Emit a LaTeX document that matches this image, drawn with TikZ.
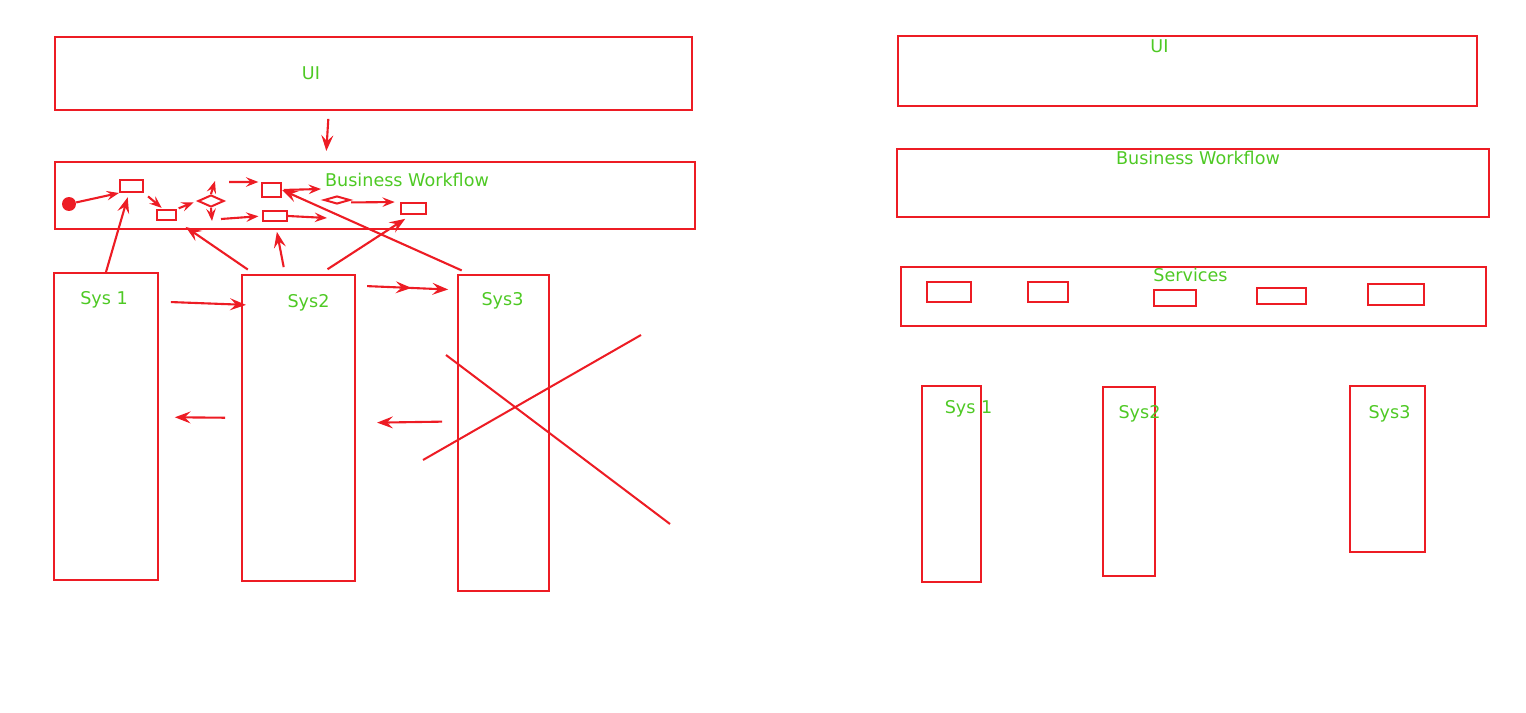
\documentclass[tikz,border=0pt]{standalone}
\usepackage{fontspec}
\setmainfont{DejaVu Sans}
\usetikzlibrary{arrows.meta,positioning,shapes.geometric,decorations.markings}
\definecolor{inkred}{RGB}{237,28,36}
\definecolor{inkgreen}{RGB}{78,201,36}
\tikzset{
  blk/.style={rectangle, draw=inkred, line width=1.15pt, inner sep=0pt},
  lbl/.style={text=inkgreen, inner sep=0pt, font=\fontsize{10}{12}\selectfont},
  flow/.style={color=inkred, line width=1.2pt, -{Stealth[length=9pt,width=6.8pt,inset=3.4pt]}},
  smallflow/.style={-{Stealth[length=7pt,width=5.4pt,inset=2.6pt]}},
  every edge/.append style={draw=inkred},
}

\begin{document}
\begin{tikzpicture}[x=0.02cm, y=-0.02cm, node distance=2cm, on grid]
\useasboundingbox (0,0) rectangle (1526,713);

%% left side
\node[blk, minimum width=12.74cm, minimum height=1.46cm] (uiL) at (373.5,73.5) {};
\node[blk, minimum width=12.8cm, minimum height=1.34cm] (bwL) at (375,195.5) {};
\node[lbl] (uiL_t) at (311,73) {UI};
\node[lbl] (bwL_t) at (407,180) {Business Workflow};

\node[circle, fill=inkred, minimum size=0.28cm, inner sep=0pt] (start) at (69,204) {};
\node[blk, minimum width=0.46cm, minimum height=0.24cm] (r1) at (131.5,186) {};
\node[blk, minimum width=0.38cm, minimum height=0.2cm] (r2) at (166.5,215) {};
\node[diamond, draw=inkred, line width=1.15pt, minimum width=0.52cm, minimum height=0.24cm, inner sep=0pt] (d1) at (211,201) {};
\node[blk, minimum width=0.38cm, minimum height=0.28cm] (r3) at (271.5,190) {};
\node[blk, minimum width=0.48cm, minimum height=0.2cm] (r4) at (275,216) {};
\node[diamond, draw=inkred, line width=1.15pt, minimum width=0.52cm, minimum height=0.16cm, inner sep=0pt] (d2) at (337,200) {};
\node[blk, minimum width=0.5cm, minimum height=0.22cm] (r5) at (413.5,208.5) {};

\coordinate (d1up) at (215,181);
\coordinate (d1dn) at (212,221);
\coordinate (r3in) at (229,182);
\coordinate (r3out) at (321,189);
\coordinate (r4in) at (221,219);
\coordinate (r4out) at (327,218);

\node[blk, minimum width=2.08cm, minimum height=6.14cm] (sysL1) at (106,426.5) {};
\node[blk, minimum width=2.26cm, minimum height=6.12cm] (sysL2) at (298.5,428) {};
\node[blk, minimum width=1.82cm, minimum height=6.32cm] (sysL3) at (503.5,433) {};
\node[lbl] (sysL1_t) at (104,300) {Sys 1};
\node[lbl] (sysL2_t) at (308.5,303) {Sys2};
\node[lbl] (sysL3_t) at (502.5,301) {Sys3};

\path[flow]
(uiL.220) edge [shorten <=4.5pt, shorten >=5.7pt] (bwL.145)
(start) edge [smallflow] (r1.south west)
(r1.south east) edge [smallflow, shorten <=3pt, shorten >=1pt] (r2.120)
(r2.north east) edge [smallflow, shorten <=1pt, shorten >=2pt] (d1.west)
(d1.north) edge [smallflow] (d1up)
(d1.south) edge [smallflow] (d1dn)
(r3in) edge [smallflow, shorten >=1.5pt] (r3.north west)
(r3.east) edge [smallflow, shorten <=1pt] (r3out)
(r4in) edge [smallflow, shorten >=2pt] (r4.west)
(r4.east) edge [smallflow] (r4out)
(d2.south east) edge [smallflow, shorten <=4pt, shorten >=3pt] (r5.north west)
(sysL1.north) edge [shorten >=2.5pt] (r1.250)
(sysL2.106) edge [shorten <=4.5pt, shorten >=6pt] (r2.south east)
(sysL2.95) edge [shorten <=4pt, shorten >=5.7pt] (r4.south)
(sysL2.82) edge [shorten <=5pt, shorten >=4pt] (r5.250)
(sysL3.102) edge [shorten <=5pt] (r3.east)
(sysL1.67) edge [shorten <=6.8pt, shorten >=-2.8pt] (sysL2.115)
(sysL2.68) edge [shorten <=6.3pt, shorten >=5pt, postaction={decorate},
  decoration={markings, mark=at position 0.55 with {\arrow{Stealth[length=9pt,width=6.8pt,inset=3.4pt]}}}] (sysL3.108)
(sysL2.170) edge [shorten <=9pt, shorten >=9pt] (sysL1.10)
(sysL3.166) edge [shorten <=8.5pt, shorten >=12pt] (sysL2.5)
;

% crossed out
\draw[inkred, line width=1.15pt] (446,355) -- (670,524);
\draw[inkred, line width=1.15pt] (423,460) -- (641,335);

%% right side
\node[blk, minimum width=11.58cm, minimum height=1.4cm] (uiR) at (1187.5,71) {};
\node[blk, minimum width=11.84cm, minimum height=1.36cm] (bwR) at (1193,183) {};
\node[blk, minimum width=11.7cm, minimum height=1.18cm] (svc) at (1193.5,296.5) {};
\node[lbl] (uiR_t) at (1159.5,46) {UI};
\node[lbl] (bwR_t) at (1198,157.5) {Business Workflow};
\node[lbl] (svc_t) at (1190.5,275) {Services};

\node[blk, minimum width=0.88cm, minimum height=0.4cm] (svc1) at (949,292) {};
\node[blk, right of = svc1, node distance =1.98cm, minimum width=0.8cm, minimum height=0.4cm] (svc2) {};
\node[blk, right of = svc2, node distance =2.54cm, yshift=-0.12cm, minimum width=0.84cm, minimum height=0.32cm] (svc3) {};
\node[blk, right of = svc3, node distance =2.13cm, yshift=0.04cm, minimum width=0.98cm, minimum height=0.32cm] (svc4) {};
\node[blk, right of = svc4, node distance =2.29cm, yshift=0.03cm, minimum width=1.12cm, minimum height=0.42cm] (svc5) {};

\node[blk, minimum width=1.18cm, minimum height=3.92cm] (sysR1) at (951.5,484) {};
\node[blk, right of = sysR1, node distance =3.55cm, yshift=0.05cm, minimum width=1.04cm, minimum height=3.78cm] (sysR2) {};
\node[blk, right of = sysR2, node distance =5.17cm, yshift=0.25cm, minimum width=1.5cm, minimum height=3.32cm] (sysR3) {};
\node[lbl] (sysR1_t) at (968.5,409) {Sys 1};
\node[lbl] (sysR2_t) at (1139.5,414) {Sys2};
\node[lbl] (sysR3_t) at (1389.5,414) {Sys3};

\end{tikzpicture}
\end{document}
